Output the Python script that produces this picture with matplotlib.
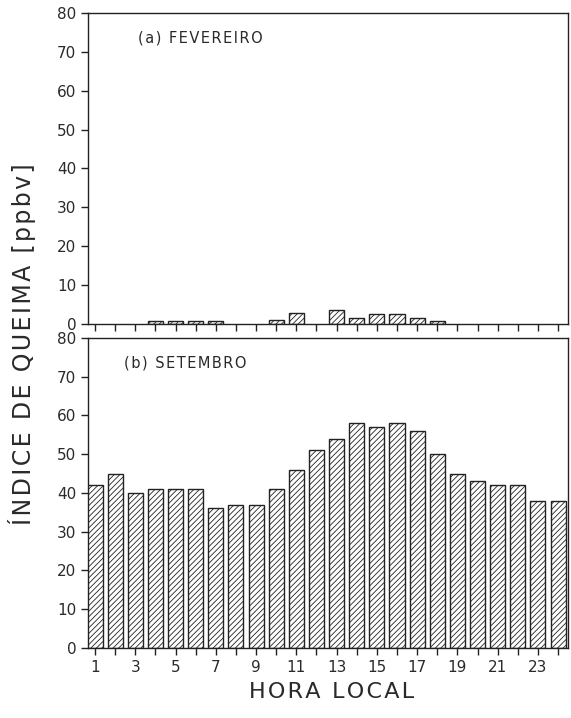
import numpy as np
import matplotlib
matplotlib.use('Agg')
import matplotlib.pyplot as plt

horas = np.arange(1, 25)
fevereiro = [0, 0, 0, 0.8, 0.8, 0.8, 0.8, 0, 0, 1.0, 2.7, 0,
             3.5, 1.4, 2.6, 2.6, 1.6, 0.6, 0, 0, 0, 0, 0, 0]
setembro = [42, 45, 40, 41, 41, 41, 36, 37, 37, 41, 46, 51,
            54, 58, 57, 58, 56, 50, 45, 43, 42, 42, 38, 38]
yticks = np.arange(0, 81, 10)


def espacado(s):
    # letras levemente afastadas como no original
    return '\u200a'.join(s)


plt.rcParams['hatch.linewidth'] = 0.6
tc = '#2a2a2a'

fig = plt.figure(figsize=(5.71, 7.18), dpi=100)
ax1 = fig.add_axes([0.154, 0.549, 0.841, 0.433])
ax2 = fig.add_axes([0.154, 0.0975, 0.841, 0.432])

for ax, vals in ((ax1, fevereiro), (ax2, setembro)):
    h = [v if v > 0 else np.nan for v in vals]
    ax.bar(horas, h, width=0.75, color='white', edgecolor='#222222',
           linewidth=1.0, hatch='//////')
    ax.set_xlim(0.65, 24.5)
    ax.set_ylim(0, 80)
    ax.set_yticks(yticks)
    ax.set_xticks(horas)
    ax.tick_params(axis='both', direction='out', length=5, width=1,
                   colors='#222222', labelcolor=tc, labelsize=11)
    for s in ax.spines.values():
        s.set_color('#222222')
        s.set_linewidth(1.0)

ax1.set_xticklabels([])
ax2.set_xticklabels([str(h) if h % 2 == 1 else '' for h in horas])

ax1.text(0.105, 0.92, espacado('(a) FEVEREIRO'), transform=ax1.transAxes,
         fontsize=10.5, color=tc, va='center')
ax2.text(0.075, 0.92, espacado('(b) SETEMBRO'), transform=ax2.transAxes,
         fontsize=10.5, color=tc, va='center')

fig.text(0.039, 0.52, espacado('ÍNDICE DE QUEIMA [ppbv]'), rotation=90,
         fontsize=17, color=tc, ha='center', va='center')
fig.text(0.58, 0.036, espacado('HORA LOCAL'), fontsize=16, color=tc,
         ha='center', va='center')

fig.savefig('out.png', dpi=100)
